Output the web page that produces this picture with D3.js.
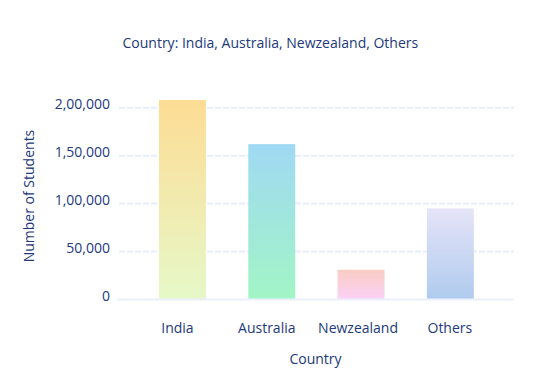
<!DOCTYPE html>
<html>
<head>
<meta charset="utf-8">
<script src="https://cdn.jsdelivr.net/npm/d3@7"></script>
<style>
  body { margin: 0; background: #fff; }
  svg { display: block; font-family: "Open Sans", sans-serif; }
</style>
</head>
<body>
<svg id="chart" width="540" height="380"></svg>
<script>
const categories = ["India", "Australia", "Newzealand", "Others"];
const students = [208000, 162000, 31000, 95000];
const yTicks = [0, 50000, 100000, 150000, 200000];
const topColors = ["#fddc94", "#a0d9f3", "#f9cdc3", "#e6e4f8"];
const bottomColors = ["#e6f8c8", "#a2f5c6", "#fcd1f8", "#afcbee"];

const svg = d3.select("#chart");
const textColor = "#22397a";
const plotLeft = 117, plotRight = 514;
const labelNudge = [-5, -5, -3, -0.5];

const x = d3.scaleBand().domain(categories).range([137.8, 495]).paddingInner(0.474).paddingOuter(0.237);
const y = d3.scaleLinear().domain([0, 200000]).range([299.5, 107.7]);

const defs = svg.append("defs");
categories.forEach((c, i) => {
  const g = defs.append("linearGradient")
    .attr("id", "grad" + i).attr("x1", 0).attr("y1", 0).attr("x2", 0).attr("y2", 1);
  g.append("stop").attr("offset", "0%").attr("stop-color", topColors[i]);
  g.append("stop").attr("offset", "100%").attr("stop-color", bottomColors[i]);
});

// gridlines
svg.append("g").selectAll("line").data(yTicks.filter(d => d !== 0)).join("line")
  .attr("x1", plotLeft + 2).attr("x2", plotRight)
  .attr("y1", d => y(d)).attr("y2", d => y(d))
  .attr("stroke", "#e7edfa").attr("stroke-width", 2).attr("stroke-dasharray", "6,2");

// bars
svg.append("g").selectAll("rect").data(categories).join("rect")
  .attr("x", d => x(d))
  .attr("width", x.bandwidth())
  .attr("y", (d, i) => y(students[i]))
  .attr("height", (d, i) => y(0) - y(students[i]))
  .attr("fill", (d, i) => `url(#grad${i})`);

// zero line
svg.append("line")
  .attr("x1", plotLeft).attr("x2", plotRight)
  .attr("y1", y(0)).attr("y2", y(0))
  .attr("stroke", "#ebf0fb").attr("stroke-width", 2);

// y axis
const fmt = v => v.toLocaleString("en-IN");
const yAxis = d3.axisLeft(y).tickValues(yTicks).tickFormat(fmt).tickSize(0).tickPadding(0);
const yg = svg.append("g").attr("transform", `translate(110,0)`).call(yAxis);
yg.select(".domain").remove();
yg.selectAll("text").attr("fill", textColor).style("font-size", "14px")
  .style("font-family", "'Open Sans', sans-serif").attr("dy", "0.07em");

// x axis
const xAxis = d3.axisBottom(x).tickSize(0).tickPadding(0);
const xg = svg.append("g").attr("transform", `translate(0,320)`).call(xAxis);
xg.select(".domain").remove();
xg.selectAll("text").attr("fill", textColor).style("font-size", "14px")
  .style("font-family", "'Open Sans', sans-serif").attr("dy", "0.95em")
  .attr("dx", (d, i) => labelNudge[i]);

// title
svg.append("text").attr("x", 122.5).attr("y", 48)
  .attr("fill", textColor).style("font-size", "14px")
  .text("Country: India, Australia, Newzealand, Others");

// axis titles
svg.append("text").attr("x", (plotLeft + plotRight) / 2).attr("y", 364)
  .attr("text-anchor", "middle").attr("fill", textColor).style("font-size", "14px")
  .text("Country");
svg.append("text").attr("transform", "translate(34,196) rotate(-90)")
  .attr("text-anchor", "middle").attr("fill", textColor).style("font-size", "14px")
  .text("Number of Students");
</script>
</body>
</html>
